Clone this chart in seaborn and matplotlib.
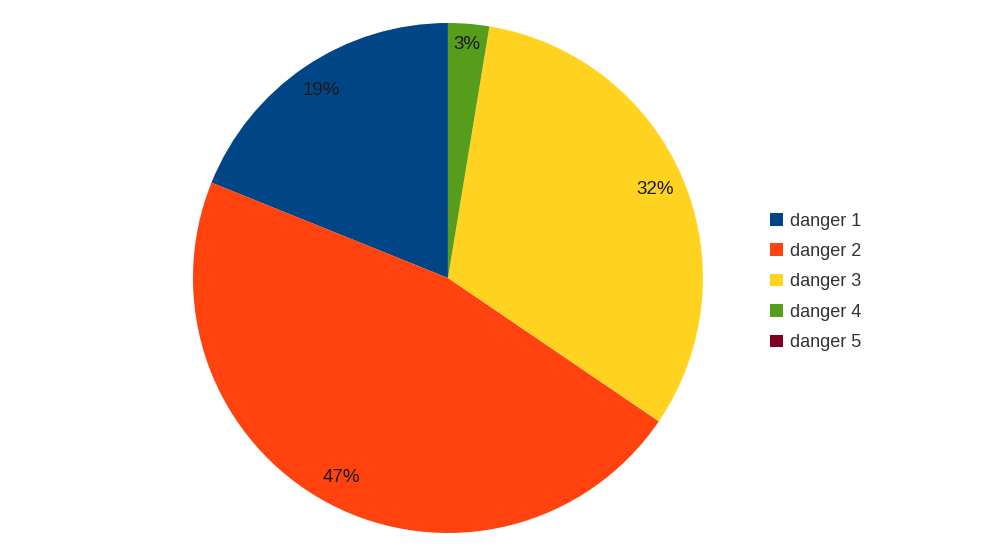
import seaborn as sns
import matplotlib.pyplot as plt
from matplotlib.patches import Patch
import numpy as np

# Chart data
categories = ["danger 1", "danger 2", "danger 3", "danger 4", "danger 5"]
shares = [18.9, 46.6, 31.9, 2.6, 0.0]
pct_labels = ["19%", "47%", "32%", "3%", ""]
colors = ["#004586", "#ff420e", "#ffd320", "#579d1c", "#7e0021"]

sns.set_theme(style="white")
plt.rcParams['font.family'] = ['Liberation Sans', 'DejaVu Sans']

fig = plt.figure(figsize=(9.87, 5.55), dpi=100)
ax = fig.add_axes([0.1955, 0.0396, 0.5167, 0.919])

wedges, _ = ax.pie(shares, colors=colors, startangle=90, counterclock=True,
                   radius=1.0, wedgeprops={"linewidth": 0})
ax.set_xlim(-1, 1)
ax.set_ylim(-1, 1)
ax.set_aspect("equal")

# percentage labels inside the wedges, near the edge
angle = 90.0
total = sum(shares)
for val, lab in zip(shares, pct_labels):
    span = val / total * 360
    mid = np.deg2rad(angle + span / 2)
    angle += span
    if not lab:
        continue
    r = 0.92 if val < 5 else 0.885
    ax.text(r * np.cos(mid), r * np.sin(mid), lab, ha="center", va="center",
            fontsize=13.5, color="#1a1a1a")

handles = [Patch(facecolor=c, edgecolor="none") for c in colors]
fig.legend(handles, categories, loc="center left", bbox_to_anchor=(0.764, 0.492),
           frameon=False, fontsize=13, handlelength=0.7, handleheight=0.7,
           handletextpad=0.4, labelspacing=0.74, labelcolor="#333333")

fig.savefig("out.png", dpi=100)
